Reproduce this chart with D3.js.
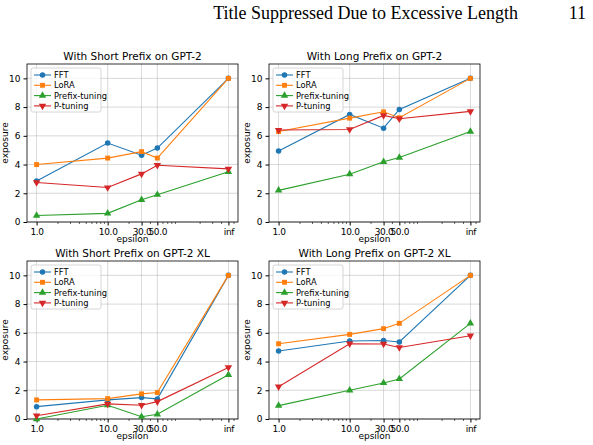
<!DOCTYPE html>
<html><head><meta charset="utf-8">
<script src="https://cdn.jsdelivr.net/npm/d3@7"></script>
<style>body{margin:0;background:#fff}svg{display:block}</style>
</head><body>
<script>
// epsilon values; "inf" is plotted at 500 on the log axis
var epsilons=[1,10,30,50,500]
var epsLabels=["1.0","10.0","30.0","50.0","inf"]
var methods=["FFT","LoRA","Prefix-tuning","P-tuning"]
var colors=["#1f77b4","#ff7f0e","#2ca02c","#d62728"]
var markers=[d3.symbolCircle,d3.symbolSquare,d3.symbolTriangle,"down"]

var shortGpt2=[[2.85,5.5,4.65,5.15,10],[4.0,4.45,4.9,4.45,10],[0.45,0.6,1.55,1.9,3.5],[2.75,2.4,3.35,3.95,3.7]]
var longGpt2=[[4.95,7.49,6.53,7.84,10],[6.3,7.23,7.67,7.26,10],[2.2,3.33,4.19,4.49,6.3],[6.4,6.44,7.42,7.19,7.7]]
var shortXl=[[0.86,1.33,1.49,1.4,10],[1.33,1.42,1.75,1.84,10],[0.0,0.96,0.16,0.33,3.08],[0.23,1.05,0.96,1.21,3.59]]
var longXl=[[4.73,5.43,5.47,5.36,10],[5.24,5.89,6.29,6.66,10],[0.93,2.0,2.51,2.79,6.66],[2.25,5.24,5.22,4.98,5.8]]

var panels=[
  {title:"With Short Prefix on GPT-2",data:shortGpt2,x:27,y:64},
  {title:"With Long Prefix on GPT-2",data:longGpt2,x:269,y:64},
  {title:"With Short Prefix on GPT-2 XL",data:shortXl,x:27,y:261},
  {title:"With Long Prefix on GPT-2 XL",data:longXl,x:269,y:261}
]
var pw=211,ph=158
var font="DejaVu Sans, sans-serif"

var svg=d3.select("body").append("svg").attr("width",593).attr("height",445)

svg.append("text").attr("x",518).attr("y",19).attr("text-anchor","end")
  .style("font-family","Liberation Serif, serif").style("font-size","18px")
  .text("Title Suppressed Due to Excessive Length")
svg.append("text").attr("x",586).attr("y",19).attr("text-anchor","end")
  .style("font-family","Liberation Serif, serif").style("font-size","18px").text("11")

var lmin=Math.log10(1),lmax=Math.log10(500),pad=(lmax-lmin)*0.05

panels.forEach(function(p){
  var g=svg.append("g").attr("transform","translate("+p.x+","+p.y+")")
  var x=d3.scaleLog().domain([Math.pow(10,lmin-pad),Math.pow(10,lmax+pad)]).range([0,pw])
  var y=d3.scaleLinear().domain([0,11]).range([ph,0])

  // grid
  g.selectAll(".gx").data(epsilons).enter().append("line")
    .attr("x1",function(d){return x(d)}).attr("x2",function(d){return x(d)})
    .attr("y1",0).attr("y2",ph).style("stroke","#b0b0b0").style("stroke-width",0.8).style("opacity",0.6)
  g.selectAll(".gy").data(d3.range(0,11,2)).enter().append("line")
    .attr("y1",function(d){return y(d)}).attr("y2",function(d){return y(d)})
    .attr("x1",0).attr("x2",pw).style("stroke","#b0b0b0").style("stroke-width",0.8).style("opacity",0.6)

  // minor ticks
  var minors=[]
  for(var dec=1;dec<=100;dec*=10){for(var k=2;k<10;k++){var v=k*dec;if(v<x.domain()[1]&&epsilons.indexOf(v)<0)minors.push(v)}}
  g.selectAll(".mt").data(minors).enter().append("line")
    .attr("x1",function(d){return x(d)}).attr("x2",function(d){return x(d)})
    .attr("y1",ph).attr("y2",ph+2).style("stroke","#000").style("stroke-width",0.6)

  var xa=g.append("g").attr("transform","translate(0,"+ph+")")
    .call(d3.axisBottom(x).tickValues(epsilons).tickFormat(function(d,i){return epsLabels[i]}).tickSize(3.5).tickPadding(3))
  var ya=g.append("g").call(d3.axisLeft(y).tickValues(d3.range(0,11,2)).tickSize(3.5).tickPadding(3))
  ;[xa,ya].forEach(function(a){
    a.select(".domain").remove()
    a.selectAll("text").style("font-family",font).style("font-size","9px").attr("fill","#000")
  })
  // 30.0 and 50.0 sit close together, as in the original
  xa.selectAll("text").style("letter-spacing","-0.3px")

  g.append("rect").attr("width",pw).attr("height",ph).style("fill","none").style("stroke","#000").style("stroke-width",0.8)

  g.append("text").attr("x",pw/2).attr("y",-4).attr("text-anchor","middle")
    .style("font-family",font).style("font-size","10.5px").text(p.title)
  g.append("text").attr("x",pw/2).attr("y",ph+20).attr("text-anchor","middle")
    .style("font-family",font).style("font-size","9px").text("epsilon")
  g.append("text").attr("transform","translate(-19,"+(ph/2)+") rotate(-90)").attr("text-anchor","middle")
    .style("font-family",font).style("font-size","9px").text("exposure")

  var line=d3.line().x(function(d,i){return x(epsilons[i])}).y(function(d){return y(d)})
  p.data.forEach(function(s,si){
    g.append("path").datum(s).attr("d",line).style("fill","none").style("stroke",colors[si]).style("stroke-width",1.1)
    g.selectAll(".m"+si).data(s).enter().append("path")
      .attr("transform",function(d,i){return "translate("+x(epsilons[i])+","+y(d)+")"+(markers[si]=="down"?" rotate(180)":"")})
      .attr("d",d3.symbol().type(markers[si]=="down"?d3.symbolTriangle:markers[si]).size(24))
      .style("fill",colors[si])
  })

  // legend
  var lg=g.append("g").attr("transform","translate(4,4)")
  lg.append("rect").attr("width",70).attr("height",44).attr("rx",2)
    .style("fill","#fff").style("fill-opacity",0.8).style("stroke","#ccc").style("stroke-width",0.8)
  methods.forEach(function(m,i){
    var yy=7+i*10.3
    lg.append("line").attr("x1",3).attr("x2",20).attr("y1",yy).attr("y2",yy).style("stroke",colors[i]).style("stroke-width",1.1)
    lg.append("path").attr("transform","translate(11.5,"+yy+")"+(markers[i]=="down"?" rotate(180)":""))
      .attr("d",d3.symbol().type(markers[i]=="down"?d3.symbolTriangle:markers[i]).size(24)).style("fill",colors[i])
    lg.append("text").attr("x",23).attr("y",yy+3).style("font-family",font).style("font-size","8.3px").text(m)
  })
})
</script>
</body></html>
